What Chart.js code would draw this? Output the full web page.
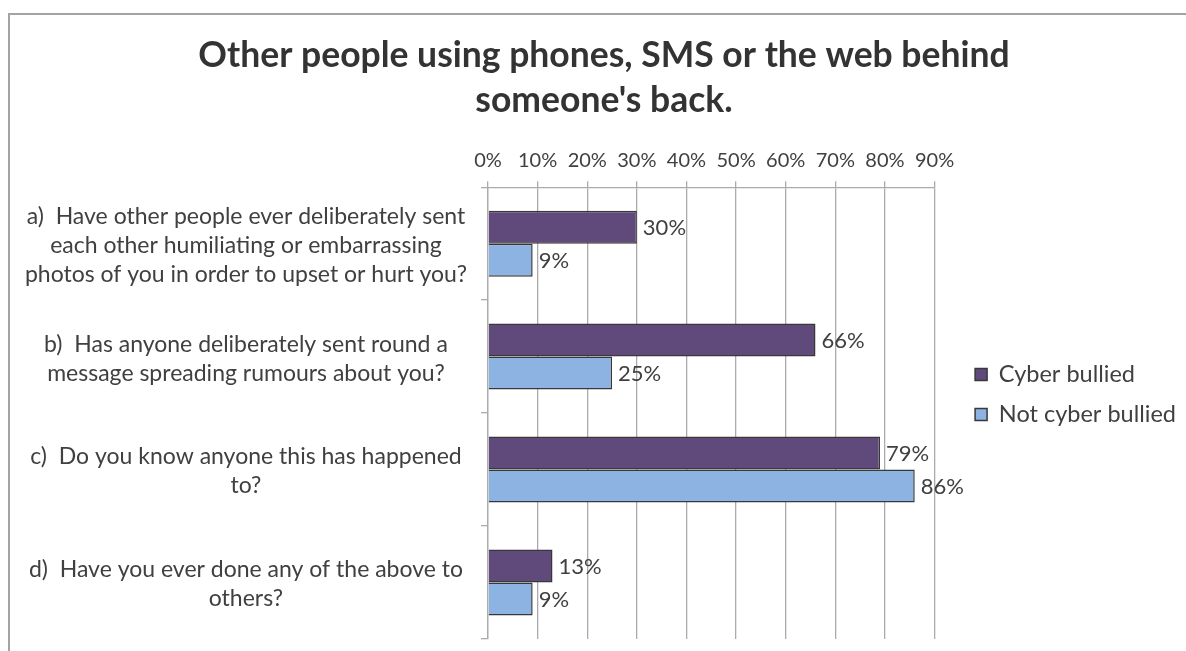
<!DOCTYPE html>
<html>
<head>
<meta charset="utf-8">
<script src="https://cdn.jsdelivr.net/npm/chart.js@4.4.0/dist/chart.umd.min.js"></script>
<style>
  html, body { margin: 0; padding: 0; background: #fff; overflow: hidden; }
  #wrap { position: relative; width: 1186px; height: 651px; }
  #frame {
    position: absolute; left: 8px; top: 13px; width: 1300px; height: 700px;
    border-left: 2px solid #a3a3a3; border-top: 2px solid #a3a3a3;
  }
  #chart { position: absolute; left: 0; top: 0; }
</style>
</head>
<body>
<div id="wrap">
  <div id="frame"></div>
  <canvas id="chart" width="1186" height="651"></canvas>
</div>
<script>
// Survey questions (y categories)
const questions = [
  ['a)  Have other people ever deliberately sent', 'each other humiliating or embarrassing', 'photos of you in order to upset or hurt you?'],
  ['b)  Has anyone deliberately sent round a', 'message spreading rumours about you?'],
  ['c)  Do you know anyone this has happened', 'to?'],
  ['d)  Have you ever done any of the above to', 'others?']
];

// Percent answering yes
const cyberBullied = [30, 66, 79, 13];
const notCyberBullied = [9, 25, 86, 9];

const seriesNames = ['Cyber bullied', 'Not cyber bullied'];
const axisMax = 90;
const axisStep = 10;

const TEXT = '#404040';
const GRID = '#ababab';
const FONT = 'Lato, "Open Sans", sans-serif';

// writes the value next to the end of each bar
const barValueLabels = {
  id: 'barValueLabels',
  afterDatasetsDraw(chart) {
    const ctx = chart.ctx;
    ctx.save();
    ctx.font = '22px ' + FONT;
    ctx.fillStyle = TEXT;
    ctx.textAlign = 'left';
    ctx.textBaseline = 'middle';
    chart.data.datasets.forEach((ds, i) => {
      chart.getDatasetMeta(i).data.forEach((bar, j) => {
        ctx.fillText(ds.data[j] + '%', bar.x + 6, bar.y + 1);
      });
    });
    ctx.restore();
  }
};

const ctx = document.getElementById('chart').getContext('2d');
new Chart(ctx, {
  type: 'bar',
  data: {
    labels: questions,
    datasets: [
      {
        label: seriesNames[0],
        data: cyberBullied,
        backgroundColor: '#604a7b',
        borderColor: '#383838',
        borderWidth: 1.5
      },
      {
        label: seriesNames[1],
        data: notCyberBullied,
        backgroundColor: '#8db3e2',
        borderColor: '#383838',
        borderWidth: 1.5
      }
    ]
  },
  options: {
    indexAxis: 'y',
    responsive: false,
    animation: false,
    layout: { padding: { left: 22, right: 0, top: 0, bottom: 12 } },
    datasets: {
      bar: { categoryPercentage: 0.584, barPercentage: 1 }
    },
    scales: {
      x: {
        position: 'top',
        min: 0,
        max: axisMax,
        ticks: {
          stepSize: axisStep,
          padding: 9,
          color: TEXT,
          font: { family: FONT, size: 20 },
          callback: v => v + '%'
        },
        grid: { color: GRID, lineWidth: 1.3, tickLength: 6 },
        border: { color: GRID, width: 1.3 },
        afterFit(scale) { scale.height = 64; }
      },
      y: {
        position: 'left',
        ticks: {
          crossAlign: 'center',
          padding: 14,
          labelOffset: 2,
          color: TEXT,
          font: { family: FONT, size: 23, lineHeight: 1.26 }
        },
        grid: { display: true, drawOnChartArea: false, color: GRID, lineWidth: 1.3, tickLength: 7 },
        border: { color: GRID, width: 1.3 },
        afterFit(scale) {
          scale.width = 466;
          scale.paddingTop = 0;
          scale.paddingBottom = 0;
        }
      },
      // empty strip between the plot and the legend
      ySpacer: {
        axis: 'y',
        type: 'linear',
        position: 'right',
        display: true,
        grid: { display: false },
        ticks: { display: false },
        border: { display: false },
        afterFit(scale) {
          scale.width = 24;
          scale.paddingTop = 0;
          scale.paddingBottom = 0;
        }
      }
    },
    plugins: {
      title: {
        display: true,
        text: ['Other people using phones, SMS or the web behind', "someone's back."],
        color: '#333333',
        font: { family: FONT, size: 35.5, weight: 'bold', lineHeight: 1.27 },
        padding: { top: 33, bottom: 0 }
      },
      legend: {
        position: 'right',
        align: 'center',
        maxWidth: 320,
        // blank title only pushes the entries down
        title: {
          display: true,
          text: '',
          font: { size: 1, lineHeight: 1 },
          padding: { top: 149, bottom: 0 }
        },
        labels: {
          color: TEXT,
          font: { family: FONT, size: 23.5 },
          boxWidth: 12,
          boxHeight: 12,
          padding: 16.5
        }
      },
      tooltip: { enabled: false }
    }
  },
  plugins: [barValueLabels]
});
</script>
</body>
</html>
